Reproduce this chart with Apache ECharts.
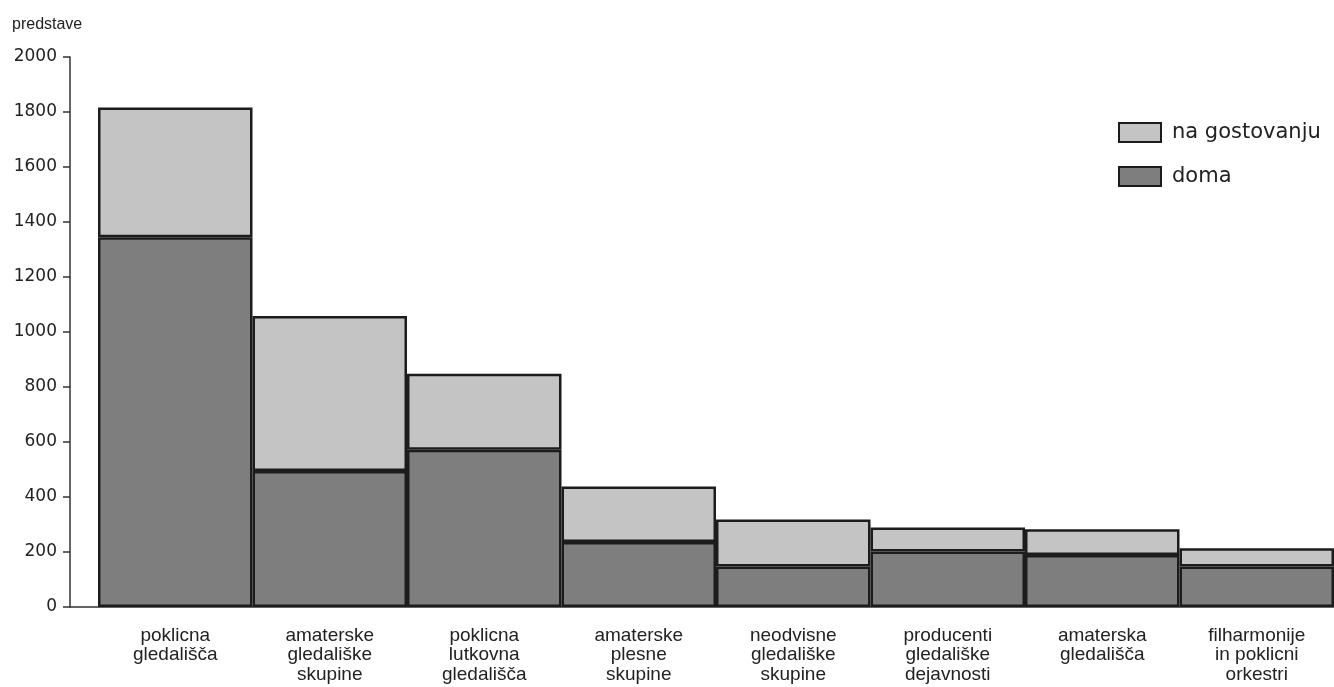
<!DOCTYPE html>
<html><head><meta charset="utf-8">
<script src="https://cdn.jsdelivr.net/npm/echarts@6/dist/echarts.min.js"></script>
<style>html,body{margin:0;padding:0;background:#fff;}#c{width:1334px;height:687px;}</style>
</head><body><div id="c"></div>
<script>
const categories = [
  'poklicna\ngledališča',
  'amaterske\ngledališke\nskupine',
  'poklicna\nlutkovna\ngledališča',
  'amaterske\nplesne\nskupine',
  'neodvisne\ngledališke\nskupine',
  'producenti\ngledališke\ndejavnosti',
  'amaterska\ngledališča',
  'filharmonije\nin poklicni\norkestri'
];
const doma = [1345, 495, 572, 236, 147, 202, 189, 147];
const naGostovanju = [471, 563, 276, 202, 171, 87, 94, 67];
const yTicks = { min: 0, max: 2000, interval: 200 };

const font = '"Liberation Sans", Arial, sans-serif';
const wide = '"DejaVu Sans", sans-serif';
const chart = echarts.init(document.getElementById('c'));
chart.setOption({
  backgroundColor: '#ffffff',
  animation: false,
  title: { text: 'predstave', left: 7, top: 12, textStyle: { fontFamily: font, fontSize: 16, fontWeight: 'normal', color: '#222' } },
  legend: {
    data: ['na gostovanju', 'doma'],
    orient: 'vertical', left: 1113, top: 117,
    itemWidth: 42, itemHeight: 19, itemGap: 23,
    icon: 'rect',
    textStyle: { fontFamily: wide, fontSize: 21, color: '#222', padding: [0, 0, 0, 6] }
  },
  grid: [
    { left: 70, right: 0, top: 57, bottom: 80 },
    { left: 98, right: 0, top: 57, bottom: 80 }
  ],
  xAxis: [
    { gridIndex: 0, type: 'value', min: 0, max: 1, axisLine: { show: true, lineStyle: { color: '#333', width: 1.5 } },
      axisTick: { show: false }, axisLabel: { show: false }, splitLine: { show: false } },
    { gridIndex: 1, type: 'category', data: categories, axisLine: { show: false }, axisTick: { show: false },
      axisLabel: { fontFamily: font, fontSize: 19, color: '#222', lineHeight: 19.5, margin: 19, interval: 0 } }
  ],
  yAxis: [
    { gridIndex: 0, type: 'value', min: yTicks.min, max: yTicks.max, interval: yTicks.interval,
      axisLine: { show: true, lineStyle: { color: '#333', width: 1.5 } },
      axisTick: { show: true, length: 7, lineStyle: { color: '#333', width: 1.5 } },
      axisLabel: { fontFamily: wide, fontSize: 17, color: '#222', margin: 13, formatter: v => String(v) },
      splitLine: { show: false } },
    { gridIndex: 1, type: 'value', min: yTicks.min, max: yTicks.max, interval: yTicks.interval, show: false, splitLine: { show: false } }
  ],
  series: [
    { name: 'doma', type: 'bar', stack: 't', xAxisIndex: 1, yAxisIndex: 1, data: doma, barCategoryGap: '0%',
      itemStyle: { color: '#7e7e7e', borderColor: '#1c1c1c', borderWidth: 2.5 } },
    { name: 'na gostovanju', type: 'bar', stack: 't', xAxisIndex: 1, yAxisIndex: 1, data: naGostovanju, barCategoryGap: '0%',
      itemStyle: { color: '#c4c4c4', borderColor: '#1c1c1c', borderWidth: 2.5 } }
  ]
});
</script>
</body></html>
